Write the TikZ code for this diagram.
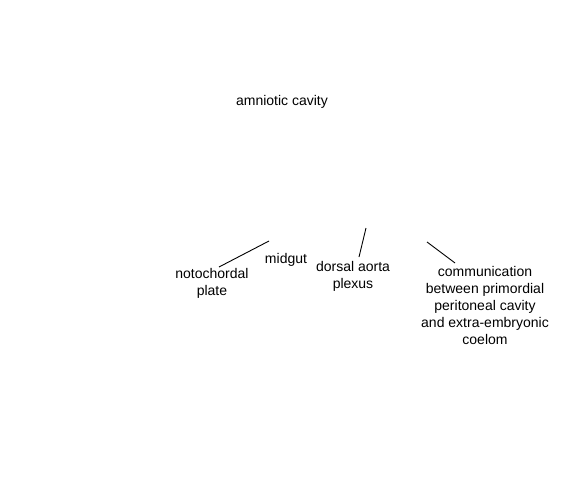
\documentclass[tikz,border=0pt]{standalone}
\usepackage{fontspec}
\setmainfont{Liberation Sans}
\begin{document}
\begin{tikzpicture}[x=1pt,y=-1pt,
  lbl/.style={inner sep=0pt,align=center,font=\fontsize{14}{17}\selectfont},
  leader/.style={draw=black,line width=0.9pt}]
\useasboundingbox (0,0) rectangle (561,495);
\node[lbl] (amn) at (282,102) {amniotic cavity};
\node[lbl] (mid) at (286,260) {midgut};
\node[lbl] (noto) at (212,283) {notochordal\\plate};
\node[lbl] (dors) at (353,276) {dorsal aorta\\plexus};
\node[lbl] (comm) at (485,305) {communication\\between primordial\\peritoneal cavity\\and extra-embryonic\\coelom};
\coordinate (n1) at (219,267);
\coordinate (n2) at (269,241);
\coordinate (d1) at (359,257);
\coordinate (d2) at (366,228);
\coordinate (c1) at (455,263);
\coordinate (c2) at (427,242);
\draw[leader] (n1) -- (n2);
\draw[leader] (d1) -- (d2);
\draw[leader] (c1) -- (c2);
\end{tikzpicture}
\end{document}
